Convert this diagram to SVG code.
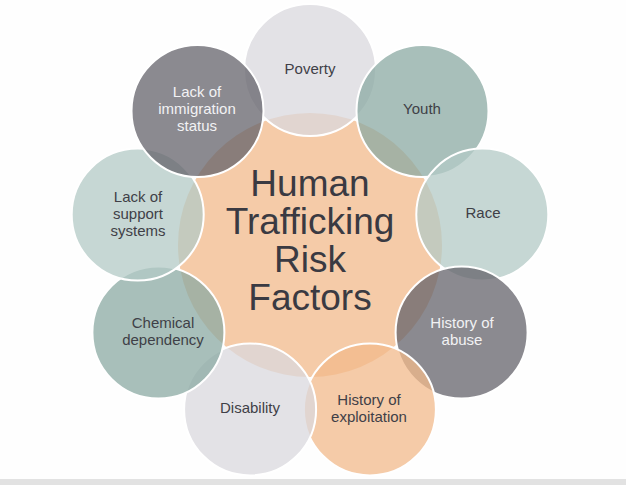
<svg xmlns="http://www.w3.org/2000/svg" width="626" height="485" viewBox="0 0 626 485">
<style>
.bg{fill:#FEFEFE}
.hub{fill:#F5CBA8}
.sat{stroke:#FFFFFF;stroke-width:2;fill-opacity:0.75}
.lgray{fill:#DAD8DE}
.sage{fill:#8BAAA3}
.mint{fill:#B3CAC6}
.dgray{fill:#64636B}
.peach{fill:#F2BA8B}
text{font-family:"Liberation Sans",Arial,Helvetica,sans-serif;text-anchor:middle}
.lbl{font-size:15px;fill:#3F3F47}
.lbl.inv{fill:#F2F2F4}
.title{font-size:37px;fill:#3A3A42}
</style>
<rect class="bg" x="0" y="0" width="626" height="485"/>
<rect x="0" y="479" width="626" height="6" fill="#E2E2E2"/>
<g id="center">
<circle class="hub" cx="310" cy="245" r="132"/>
</g>
<g id="poverty">
<circle class="sat lgray" cx="310" cy="70" r="66"/>
<text class="lbl" x="310" y="74">Poverty</text>
</g>
<g id="youth">
<circle class="sat sage" cx="422.5" cy="111" r="66"/>
<text class="lbl" x="422" y="114">Youth</text>
</g>
<g id="race">
<circle class="sat mint" cx="482.3" cy="214.6" r="66"/>
<text class="lbl" x="483" y="218">Race</text>
</g>
<g id="abuse">
<circle class="sat dgray" cx="461.6" cy="332.5" r="66"/>
<text class="lbl inv" x="462" y="328">History of</text>
<text class="lbl inv" x="462" y="345">abuse</text>
</g>
<g id="exploitation">
<circle class="sat peach" cx="369.9" cy="409.4" r="66"/>
<text class="lbl" x="369" y="405">History of</text>
<text class="lbl" x="369" y="422">exploitation</text>
</g>
<g id="disability">
<circle class="sat lgray" cx="250.1" cy="409.4" r="66"/>
<text class="lbl" x="250" y="413">Disability</text>
</g>
<g id="chemical">
<circle class="sat sage" cx="158.4" cy="332.5" r="66"/>
<text class="lbl" x="163" y="328">Chemical</text>
<text class="lbl" x="163" y="345">dependency</text>
</g>
<g id="support">
<circle class="sat mint" cx="137.7" cy="214.6" r="66"/>
<text class="lbl" x="138" y="202">Lack of</text>
<text class="lbl" x="138" y="219">support</text>
<text class="lbl" x="138" y="236">systems</text>
</g>
<g id="immigration">
<circle class="sat dgray" cx="197.5" cy="111" r="66"/>
<text class="lbl inv" x="197" y="97">Lack of</text>
<text class="lbl inv" x="197" y="114">immigration</text>
<text class="lbl inv" x="197" y="131">status</text>
</g>
<g id="title">
<text class="title" x="310" y="196">Human</text>
<text class="title" x="310" y="234">Trafficking</text>
<text class="title" x="310" y="272">Risk</text>
<text class="title" x="310" y="310">Factors</text>
</g>
</svg>
